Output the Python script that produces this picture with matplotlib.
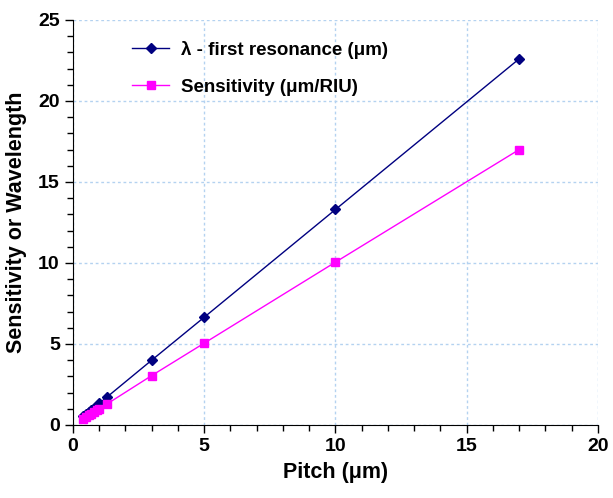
import matplotlib
matplotlib.use('Agg')
import matplotlib.pyplot as plt
from matplotlib.ticker import MultipleLocator

plt.rcParams['font.family'] = ['Liberation Sans', 'DejaVu Sans']
plt.rcParams['font.weight'] = 'bold'

pitch = [0.4, 0.5, 0.6, 0.7, 0.8, 0.9, 1.0, 1.3, 3, 5, 10, 17]
wavelength = [0.54, 0.67, 0.8, 0.93, 1.07, 1.2, 1.33, 1.73, 4.0, 6.65, 13.3, 22.6]
sensitivity = [0.35, 0.5, 0.6, 0.7, 0.8, 0.9, 1.0, 1.3, 3.05, 5.05, 10.05, 17.0]

fig = plt.figure(figsize=(6.13, 4.98), dpi=100)
ax = fig.add_axes([0.119, 0.1466, 0.8565, 0.8134])

ax.plot(pitch, wavelength, color='#000080', lw=1, marker='D', ms=5.5,
        label='λ - first resonance (μm)')
ax.plot(pitch, sensitivity, color='#ff00ff', lw=1, marker='s', ms=6,
        label='Sensitivity (μm/RIU)')

ax.set_xlim(0, 20)
ax.set_ylim(0, 25)
ax.xaxis.set_major_locator(MultipleLocator(5))
ax.xaxis.set_minor_locator(MultipleLocator(1))
ax.yaxis.set_major_locator(MultipleLocator(5))
ax.yaxis.set_minor_locator(MultipleLocator(1))
ax.tick_params(which='major', length=6, width=1, labelsize=14, direction='out')
ax.tick_params(which='minor', length=4, width=1, direction='out')
for lab in ax.get_xticklabels() + ax.get_yticklabels():
    lab.set_fontweight('bold')

ax.grid(True, which='major', color='#b4d2f0', linestyle=(0, (2, 2)), lw=1)
ax.spines['top'].set_visible(False)
ax.spines['right'].set_visible(False)

ax.set_xlabel('Pitch (μm)', fontsize=15.5, fontweight='bold', labelpad=5)
ax.set_ylabel('Sensitivity or Wavelength', fontsize=15.5, fontweight='bold', labelpad=8)

leg = ax.legend(loc='upper left', bbox_to_anchor=(0.08, 0.99), frameon=False,
                fontsize=13.5, labelspacing=1.05, handlelength=2.0, handletextpad=0.6)
for t in leg.get_texts():
    t.set_fontweight('bold')

fig.savefig('out.png', dpi=100)
